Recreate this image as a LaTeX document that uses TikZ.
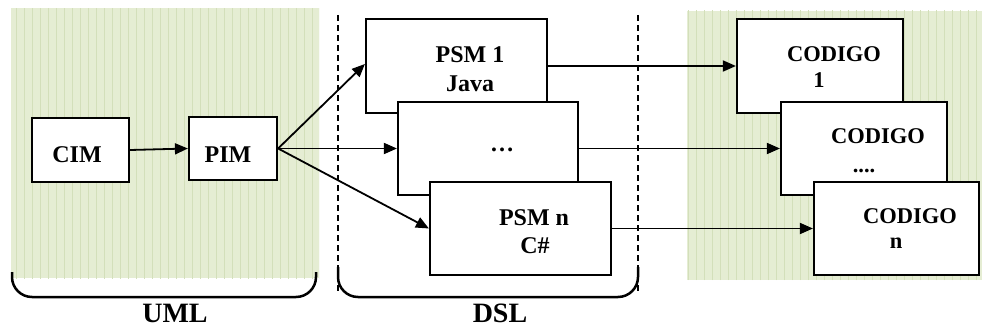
\documentclass[tikz,border=0pt]{standalone}
\usepackage{fontspec}
\setmainfont{Liberation Serif}
\usetikzlibrary{arrows.meta}
\definecolor{greenbg}{HTML}{E5EDD3}
\definecolor{greengrid}{HTML}{D3DFBA}
\tikzset{
  box/.style={draw=black, line width=2.2pt, fill=white, inner sep=0pt},
  txt/.style={font=\bfseries\fontsize{24}{26}\selectfont, inner sep=0pt, anchor=base},
  ctxt/.style={font=\bfseries\fontsize{22.5}{25}\selectfont, inner sep=0pt, anchor=base},
  ltxt/.style={font=\bfseries\fontsize{28}{30}\selectfont, inner sep=0pt, anchor=base},
  arr/.style={line width=1.8pt, -{Triangle[length=13pt,width=11pt]}},
  sep/.style={line width=1.4pt, dash pattern=on 6pt off 4pt},
  brace/.style={line width=2.5pt, rounded corners=20pt},
}
\begin{document}
\begin{tikzpicture}[x=1pt,y=-1pt]
\useasboundingbox (0,0) rectangle (982,329);
\fill[white] (0,0) rectangle (982,329);
% green areas
\fill[greenbg] (11,8) rectangle (319,278);
\begin{scope}
\clip (11,8) rectangle (319,278);
\draw[greengrid, line width=1pt, step=8] (8,8) grid (320,280);
\end{scope}
\fill[greenbg] (687,11) rectangle (982,280);
\begin{scope}
\clip (687,11) rectangle (982,280);
\draw[greengrid, line width=1pt, step=8] (680,8) grid (984,280);
\end{scope}
% dashed separators
\coordinate (s1t) at (338,15); \coordinate (s1b) at (338,292);
\coordinate (s2t) at (638,15); \coordinate (s2b) at (638,292);
\draw[sep] (s1t) -- (s1b);
\draw[sep] (s2t) -- (s2b);
% left boxes
\node[box, minimum width=97pt, minimum height=64pt] (cim) at (80.5,150) {};
\node[txt] (cimt) at (77,162) {CIM};
\node[box, minimum width=88pt, minimum height=63pt] (pim) at (233,148.5) {};
\node[txt] (pimt) at (228,162) {PIM};
% PSM boxes
\node[box, minimum width=181pt, minimum height=94pt] (psm1) at (456.5,66) {};
\node[txt] (psm1a) at (470,63) {PSM 1};
\node[txt] (psm1b) at (470,91) {Java};
\node[box, minimum width=180pt, minimum height=93pt] (psm2) at (488,148.5) {};
\node[txt] (psm2t) at (502,151) {\dots};
\node[box, minimum width=181pt, minimum height=93pt] (psm3) at (520.5,228.5) {};
\node[txt] (psm3a) at (534,225) {PSM n};
\node[txt] (psm3b) at (535,253) {C\#};
% CODIGO boxes
\node[box, minimum width=166pt, minimum height=94pt] (c1) at (820,66) {};
\node[ctxt] (c1a) at (834,62) {CODIGO};
\node[ctxt] (c1b) at (819,87) {1};
\node[box, minimum width=166pt, minimum height=93pt] (c2) at (864,148.5) {};
\node[ctxt] (c2a) at (878,143) {CODIGO};
\node[ctxt] (c2b) at (864,172) {....};
\node[box, minimum width=165pt, minimum height=93pt] (c3) at (896.5,228.5) {};
\node[ctxt] (c3a) at (910,223) {CODIGO};
\node[ctxt] (c3b) at (896,248) {n};
% arrows
\draw[arr] (cim.east) -- (pim.west);
\draw[arr] (pim.east) -- ([yshift=2pt]psm1.west);
\draw[arr] (pim.east) -- (psm2.west);
\draw[arr] (pim.east) -- (psm3.west);
\draw[arr] (psm1.east) -- (c1.west);
\draw[arr] (psm2.east) -- (c2.west);
\draw[arr] (psm3.east) -- (c3.west);
% braces
\coordinate (b1a) at (12,272); \coordinate (b1b) at (12,297);
\coordinate (b1c) at (316,297); \coordinate (b1d) at (316,272);
\draw[brace] (b1a) -- (b1b) -- (b1c) -- (b1d);
\coordinate (b2a) at (338,267); \coordinate (b2b) at (338,297);
\coordinate (b2c) at (638,297); \coordinate (b2d) at (638,267);
\draw[brace] (b2a) -- (b2b) -- (b2c) -- (b2d);
\node[ltxt] (uml) at (175,322) {UML};
\node[ltxt] (dsl) at (500,322) {DSL};
\end{tikzpicture}
\end{document}
